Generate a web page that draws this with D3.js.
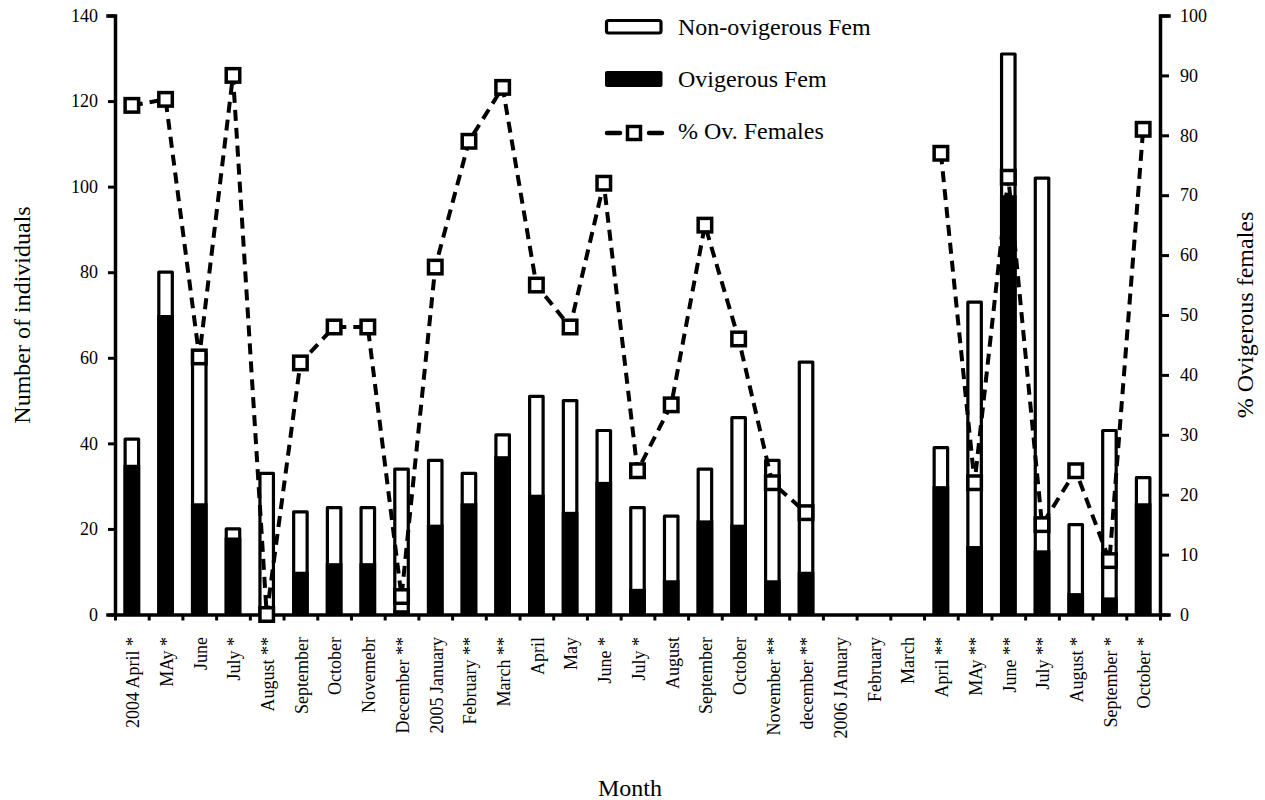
<!DOCTYPE html>
<html>
<head>
<meta charset="utf-8">
<script src="https://cdn.jsdelivr.net/npm/d3@7"></script>
<style>
  html, body { margin: 0; padding: 0; background: #fff; }
  svg { display: block; }
  svg text { font-family: "Liberation Serif", "Tinos", "Times New Roman", "DejaVu Serif", serif !important; fill: #000; }
</style>
</head>
<body>
<svg id="chart" width="1265" height="800"></svg>
<script>
// Monthly samples, April 2004 – October 2006
const months = ["2004 April *", "MAy *", "June", "July *", "August **", "September", "October", "Novemebr",
  "December **", "2005 January", "February **", "March **", "April", "May", "June *", "July *", "August",
  "September", "October", "November **", "december **", "2006 JAnuary", "February", "March", "April **",
  "MAy **", "June **", "July **", "August *", "September *", "October *"];

// Total females per month (ovigerous + non-ovigerous)
const totalFemales = [41, 80, 61, 20, 33, 24, 25, 25, 34, 36, 33, 42, 51, 50, 43, 25, 23, 34, 46, 36, 59,
  null, null, null, 39, 73, 131, 102, 21, 43, 32];
// Ovigerous females per month
const ovigerousFemales = [35, 70, 26, 18, 0, 10, 12, 12, 1, 21, 26, 37, 28, 24, 31, 6, 8, 22, 21, 8, 10,
  null, null, null, 30, 16, 98, 15, 5, 4, 26];
// Percentage of ovigerous females
const pctOvigerous = [85, 86, 43, 90, 0, 42, 48, 48, 3, 58, 79, 88, 55, 48, 72, 24, 35, 65, 46, 22, 17,
  null, null, null, 77, 22, 73, 15, 24, 9, 81];

const leftTicks = [0, 20, 40, 60, 80, 100, 120, 140];
const rightTicks = [0, 10, 20, 30, 40, 50, 60, 70, 80, 90, 100];

const FONT = '"Liberation Serif", "Tinos", "Times New Roman", "DejaVu Serif", serif';

const svg = d3.select("#chart");
const plot = { left: 115, right: 1160, top: 15.5, bottom: 614.5 };

const idx = d3.range(months.length);
const x = d3.scaleBand().domain(idx).range([plot.left, plot.right]).padding(0);
const xEdge = d3.scaleLinear().domain([0, months.length]).range([plot.left, plot.right]);
const y = d3.scaleLinear().domain([0, 140]).range([plot.bottom, plot.top]);
const y2 = d3.scaleLinear().domain([0, 100]).range([plot.bottom, plot.top]);

const barW = x.bandwidth() * 0.40;
const bx = i => x(i) + x.bandwidth() / 2 - barW / 2;

// Stacked bars: outlined total, filled ovigerous part
const bars = svg.append("g");
idx.filter(i => totalFemales[i] != null).forEach(i => {
  bars.append("rect")
    .attr("x", bx(i)).attr("width", barW)
    .attr("y", y(totalFemales[i])).attr("height", y(0) - y(totalFemales[i]))
    .attr("fill", "#fff").attr("stroke", "#000").attr("stroke-width", 3.2)
    .attr("stroke-linejoin", "round");
  if (ovigerousFemales[i] > 0) {
    bars.append("rect")
      .attr("x", bx(i) - 1.6).attr("width", barW + 3.2)
      .attr("y", y(ovigerousFemales[i])).attr("height", y(0) - y(ovigerousFemales[i]))
      .attr("fill", "#000");
  }
});

// Left axis
const axL = svg.append("g").attr("transform", `translate(${plot.left},0)`)
  .call(d3.axisLeft(y).tickValues(leftTicks).tickSize(7).tickPadding(10).tickFormat(d3.format("d")));
// Right axis
const axR = svg.append("g").attr("transform", `translate(${plot.right},0)`)
  .call(d3.axisRight(y2).tickValues(rightTicks).tickSize(9).tickPadding(11).tickFormat(d3.format("d")));
// Bottom axis: ticks at month boundaries
const axB = svg.append("g").attr("transform", `translate(0,${plot.bottom})`)
  .call(d3.axisBottom(xEdge).tickValues(d3.range(months.length + 1)).tickSize(6).tickSizeOuter(0).tickFormat(""));

[axL, axR, axB].forEach(a => {
  a.attr("font-family", FONT).attr("font-size", 18);
  a.select(".domain").attr("stroke-width", 3.5).attr("stroke-linecap", "square");
  a.selectAll(".tick line").attr("stroke-width", 3);
  a.selectAll(".tick text").style("font-family", FONT).style("font-size", "18px");
});

// Month labels, rotated
svg.append("g").selectAll("text").data(idx).join("text")
  .attr("transform", i => `translate(${x(i) + x.bandwidth() / 2 + 1},637) rotate(-90)`)
  .attr("text-anchor", "end").attr("dy", "0.35em")
  .style("font-family", FONT).style("font-size", "18px")
  .text(i => months[i]);

// % ovigerous females: dashed line with square markers
const pts = idx.map(i => ({ i, v: pctOvigerous[i] }));
const line = d3.line().defined(d => d.v != null)
  .x(d => x(d.i) + x.bandwidth() / 2).y(d => y2(d.v));
svg.append("path").datum(pts).attr("d", line)
  .attr("fill", "none").attr("stroke", "#000").attr("stroke-width", 4)
  .attr("stroke-dasharray", "11,7");
const mk = 13.5;
svg.append("g").selectAll("rect").data(pts.filter(d => d.v != null)).join("rect")
  .attr("x", d => x(d.i) + x.bandwidth() / 2 - mk / 2)
  .attr("y", d => y2(d.v) - mk / 2)
  .attr("width", mk).attr("height", mk)
  .attr("fill", "#fff").attr("stroke", "#000").attr("stroke-width", 3.5);

// Axis titles
const title = (t) => svg.append("text").style("font-family", FONT).style("font-size", "24px").text(t);
title("Number of individuals")
  .attr("transform", `translate(22,${(plot.top + plot.bottom) / 2}) rotate(-90)`)
  .attr("text-anchor", "middle").attr("dy", "0.35em");
title("% Ovigerous females")
  .attr("transform", `translate(1245,${(plot.top + plot.bottom) / 2}) rotate(-90)`)
  .attr("text-anchor", "middle").attr("dy", "0.35em");
title("Month").attr("x", 630).attr("y", 796).attr("text-anchor", "middle");

// Legend
const lg = svg.append("g");
lg.append("rect").attr("x", 606.5).attr("y", 20.5).attr("width", 54.5).attr("height", 12.5)
  .attr("rx", 2).attr("fill", "#fff").attr("stroke", "#000").attr("stroke-width", 3.2);
lg.append("rect").attr("x", 605).attr("y", 71).attr("width", 57.5).attr("height", 16)
  .attr("rx", 2).attr("fill", "#000");
[[607, 620], [649, 662]].forEach(([a, b]) =>
  lg.append("line").attr("x1", a).attr("x2", b).attr("y1", 133).attr("y2", 133)
    .attr("stroke", "#000").attr("stroke-width", 4.5).attr("stroke-linecap", "round"));
lg.append("rect").attr("x", 627.5).attr("y", 126.5).attr("width", 13).attr("height", 13)
  .attr("fill", "#fff").attr("stroke", "#000").attr("stroke-width", 3.5);
const legendText = (t, yy) => lg.append("text").attr("x", 678).attr("y", yy)
  .style("font-family", FONT).style("font-size", "24px").text(t);
legendText("Non-ovigerous Fem", 35);
legendText("Ovigerous Fem", 87);
legendText("% Ov. Females", 139);
</script>
</body>
</html>
